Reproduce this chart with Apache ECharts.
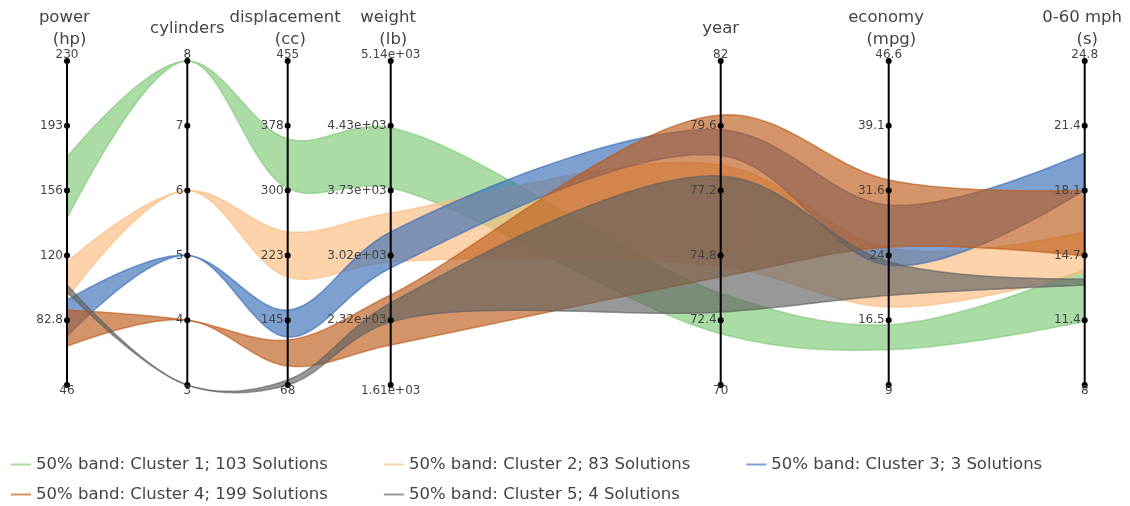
<!DOCTYPE html>
<html>
<head>
<meta charset="utf-8">
<title>Cluster bands – parallel coordinates</title>
<script src="https://cdn.jsdelivr.net/npm/echarts@6.0.0/dist/echarts.min.js"></script>
<style>
  html, body { margin: 0; padding: 0; background: #ffffff; }
  #chart { width: 1130px; height: 506px; }
</style>
</head>
<body>
<div id="chart"></div>
<script>
// ---- data ---------------------------------------------------------------
const dimensionNames = ['power \n (hp)', 'cylinders', 'displacement \n (cc)', 'weight \n (lb)', 'year', 'economy \n (mpg)', '0-60 mph \n (s)'];
const dimensionMin = [46, 3, 68, 1613, 70, 9, 8];
const dimensionMax = [230, 8, 455, 5140, 82, 46.6, 24.8];
const tickLabels = [
  ['46', '82.8', '120', '156', '193', '230'],
  ['3', '4', '5', '6', '7', '8'],
  ['68', '145', '223', '300', '378', '455'],
  ['1.61e+03', '2.32e+03', '3.02e+03', '3.73e+03', '4.43e+03', '5.14e+03'],
  ['70', '72.4', '74.8', '77.2', '79.6', '82'],
  ['9', '16.5', '24', '31.6', '39.1', '46.6'],
  ['8', '11.4', '14.7', '18.1', '21.4', '24.8']
];
const clusterNames = [
  '50% band: Cluster 1; 103 Solutions',
  '50% band: Cluster 2; 83 Solutions',
  '50% band: Cluster 3; 3 Solutions',
  '50% band: Cluster 4; 199 Solutions',
  '50% band: Cluster 5; 4 Solutions'
];
// lower / upper quartile of each cluster on every dimension
const cluster1Lower = [140.8, 8, 303, 3758, 71.9, 13.1, 11.3];
const cluster1Upper = [175.5, 8, 362, 4411, 73.4, 16.0, 14.0];
const cluster2Lower = [95.4, 6, 197, 2952, 74.4, 18.05, 13.86];
const cluster2Upper = [115.9, 6, 251, 3485, 78.15, 24.9, 15.93];
const cluster3Lower = [73.8, 5, 125.3, 2887, 78.5, 22.9, 18.1];
const cluster3Upper = [94.3, 5, 157.6, 3279, 79.45, 29.9, 20.03];
const cluster4Lower = [68.1, 4, 90.7, 2049, 74.0, 25.0, 14.7];
const cluster4Upper = [88.6, 4, 121.8, 2593, 80.0, 32.8, 18.1];
const cluster5Lower = [98.8, 3, 68, 2299, 72.7, 19.4, 13.18];
const cluster5Upper = [102.8, 3, 74, 2506, 77.74, 23.3, 13.5];

const clusters = [
  { lower: cluster1Lower, upper: cluster1Upper },
  { lower: cluster2Lower, upper: cluster2Upper },
  { lower: cluster3Lower, upper: cluster3Upper },
  { lower: cluster4Lower, upper: cluster4Upper },
  { lower: cluster5Lower, upper: cluster5Upper }
];

// ---- layout & style -----------------------------------------------------
const axisOffsets = [0, 120.3, 220.7, 323.7, 653.7, 821.7, 1017.7];
const clusterColors = [
  'rgba(127,201,118,0.65)',
  'rgba(252,187,126,0.65)',
  'rgba(57,109,183,0.65)',
  'rgba(189,90,24,0.65)',
  'rgba(97,97,97,0.65)'
];
const FONT = '"DejaVu Sans", Verdana, sans-serif';
const TEXT_COLOR = '#444444';
const TICK_COUNT = 6;

const chart = echarts.init(document.getElementById('chart'), null, { renderer: 'canvas' });

function xPix(d) {
  return chart.convertToPixel({ xAxisIndex: 0 }, axisOffsets[d]);
}
function yPix(d, v) {
  return chart.convertToPixel({ yAxisIndex: d }, v);
}

// centripetal Catmull-Rom control points around p1
function tangent(p0, p1, p2) {
  const d1x = p0[0] - p1[0], d1y = p0[1] - p1[1];
  const d2x = p2[0] - p1[0], d2y = p2[1] - p1[1];
  const d1a = Math.pow(d1x * d1x + d1y * d1y, 0.25);
  const d2a = Math.pow(d2x * d2x + d2y * d2y, 0.25);
  const numx = d2a * d2a * d1x - d1a * d1a * d2x;
  const numy = d2a * d2a * d1y - d1a * d1a * d2y;
  const den1 = 3 * d2a * (d1a + d2a);
  const den2 = 3 * d1a * (d1a + d2a);
  return [
    [p1[0] + (den1 ? numx / den1 : 0), p1[1] + (den1 ? numy / den1 : 0)],
    [p1[0] - (den2 ? numx / den2 : 0), p1[1] - (den2 ? numy / den2 : 0)]
  ];
}

// sample a smooth spline through the points
function splinePoints(pts) {
  const n = pts.length;
  const steps = 28;
  if (n < 3) return pts.slice();
  const tans = [];
  for (let i = 1; i < n - 1; i++) tans.push(tangent(pts[i - 1], pts[i], pts[i + 1]));
  const out = [pts[0]];
  function quad(a, c, b) {
    for (let s = 1; s <= steps; s++) {
      const t = s / steps, u = 1 - t;
      out.push([u * u * a[0] + 2 * u * t * c[0] + t * t * b[0], u * u * a[1] + 2 * u * t * c[1] + t * t * b[1]]);
    }
  }
  function cubic(a, c1, c2, b) {
    for (let s = 1; s <= steps; s++) {
      const t = s / steps, u = 1 - t;
      out.push([
        u * u * u * a[0] + 3 * u * u * t * c1[0] + 3 * u * t * t * c2[0] + t * t * t * b[0],
        u * u * u * a[1] + 3 * u * u * t * c1[1] + 3 * u * t * t * c2[1] + t * t * t * b[1]
      ]);
    }
  }
  quad(pts[0], tans[0][0], pts[1]);
  for (let i = 2; i < n - 1; i++) cubic(pts[i - 1], tans[i - 2][1], tans[i - 1][0], pts[i]);
  quad(pts[n - 2], tans[n - 3][1], pts[n - 1]);
  return out;
}

function renderBand(cluster, color) {
  const up = splinePoints(cluster.upper.map((v, d) => [xPix(d), yPix(d, v)]));
  const lo = splinePoints(cluster.lower.map((v, d) => [xPix(d), yPix(d, v)]));
  const ring = up.concat(lo.slice().reverse());
  return {
    type: 'group',
    children: [
      { type: 'polygon', shape: { points: ring }, style: { fill: color, stroke: null } },
      { type: 'polyline', shape: { points: up }, style: { fill: null, stroke: color, lineWidth: 1.5 } },
      { type: 'polyline', shape: { points: lo }, style: { fill: null, stroke: color, lineWidth: 1.5 } }
    ]
  };
}

function renderAxis(d) {
  const x = xPix(d);
  const yTop = yPix(d, dimensionMax[d]);
  const yBottom = yPix(d, dimensionMin[d]);
  const children = [
    { type: 'line', shape: { x1: x, y1: yTop, x2: x, y2: yBottom }, style: { stroke: '#000', lineWidth: 2 } }
  ];
  const step = (dimensionMax[d] - dimensionMin[d]) / (TICK_COUNT - 1);
  for (let k = 0; k < TICK_COUNT; k++) {
    const y = yPix(d, dimensionMin[d] + k * step);
    children.push({ type: 'circle', shape: { cx: x, cy: y, r: 3 }, style: { fill: '#000' } });
    let label;
    if (k === 0) {
      label = { x: x, y: y + 6, align: 'center' };
    } else if (k === TICK_COUNT - 1) {
      label = { x: x, y: y - 6, align: 'center' };
    } else {
      label = { x: x - 4, y: y, align: 'right' };
    }
    children.push({
      type: 'text', x: label.x, y: label.y,
      style: {
        text: tickLabels[d][k], fill: TEXT_COLOR, fontSize: 12, fontFamily: FONT,
        align: label.align, verticalAlign: 'middle'
      }
    });
  }
  children.push({
    type: 'text', x: x, y: yTop - 32.5,
    style: {
      text: dimensionNames[d], fill: TEXT_COLOR, fontSize: 16.5, fontFamily: FONT,
      align: 'center', verticalAlign: 'middle', lineHeight: 21.5
    }
  });
  return { type: 'group', children: children };
}

const bandSeries = clusters.map((c, i) => ({
  type: 'custom',
  name: clusterNames[i],
  coordinateSystem: 'cartesian2d',
  xAxisIndex: 0,
  yAxisIndex: 0,
  silent: true,
  z: 2 + i,
  itemStyle: { color: clusterColors[i] },
  data: [[0, dimensionMin[0]]],
  renderItem: function () { return renderBand(c, clusterColors[i]); }
}));

const axisSeries = {
  type: 'custom',
  name: 'axes',
  coordinateSystem: 'cartesian2d',
  xAxisIndex: 0,
  yAxisIndex: 0,
  silent: true,
  z: 20,
  data: axisOffsets.map(o => [o, dimensionMin[0]]),
  renderItem: function (params) { return renderAxis(params.dataIndex); }
};

function legendRow(indices, top) {
  return {
    left: 11,
    top: top,
    padding: 0,
    orient: 'horizontal',
    itemWidth: 20,
    itemHeight: 2,
    itemGap: 56,
    selectedMode: false,
    textStyle: { fontSize: 16.5, color: TEXT_COLOR, fontFamily: FONT },
    data: indices.map(i => ({ name: clusterNames[i], icon: 'rect', itemStyle: { color: clusterColors[i], borderWidth: 0 } }))
  };
}

chart.setOption({
  animation: false,
  backgroundColor: '#ffffff',
  grid: { left: 67, right: 45.3, top: 61, bottom: 121 },
  xAxis: { type: 'value', min: 0, max: axisOffsets[axisOffsets.length - 1], show: false },
  yAxis: dimensionMin.map((mn, d) => ({ type: 'value', min: mn, max: dimensionMax[d], show: false, gridIndex: 0 })),
  legend: [legendRow([0, 1, 2], 456), legendRow([3, 4], 486)],
  series: bandSeries.concat([axisSeries])
});
</script>
</body>
</html>
